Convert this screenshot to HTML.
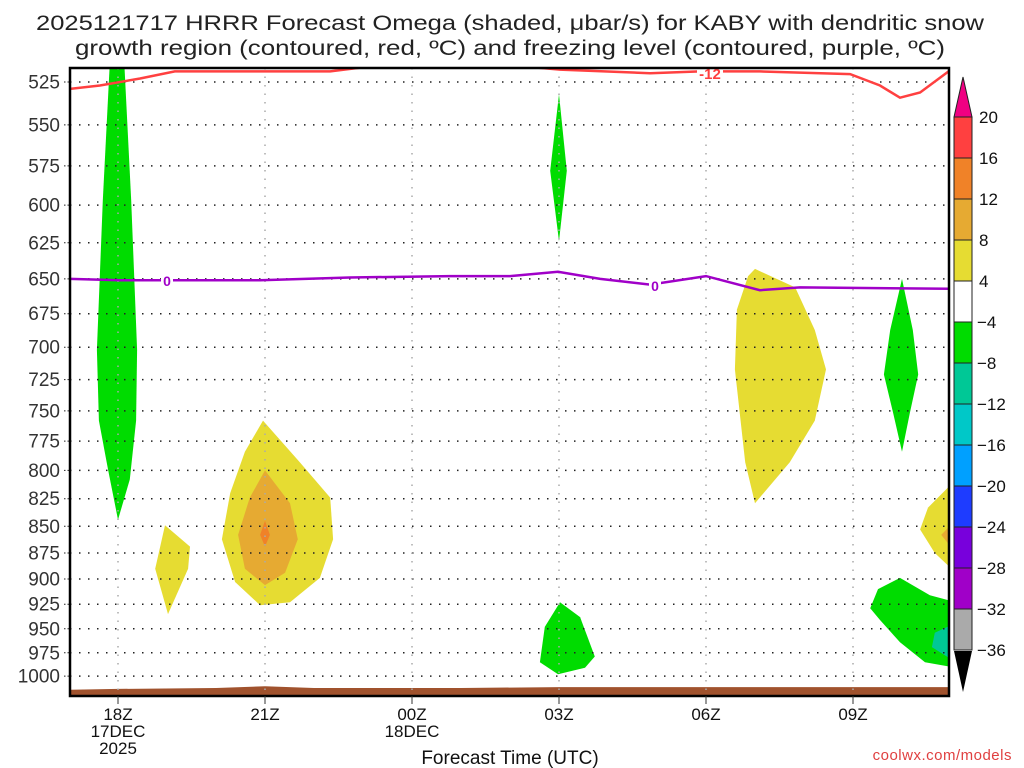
<!DOCTYPE html>
<html><head><meta charset="utf-8"><style>
html,body{margin:0;padding:0;background:#fff;}
svg{display:block;font-family:"Liberation Sans",sans-serif;}
</style></head><body>
<svg id="chart" width="1024" height="768" viewBox="0 0 1024 768" xmlns="http://www.w3.org/2000/svg">
<text x="510" y="30" text-anchor="middle" font-size="21" fill="#222" textLength="948" lengthAdjust="spacingAndGlyphs">2025121717 HRRR Forecast Omega (shaded, μbar/s) for KABY with dendritic snow</text>
<text x="510" y="55" text-anchor="middle" font-size="21" fill="#222" textLength="870" lengthAdjust="spacingAndGlyphs">growth region (contoured, red, ºC) and freezing level (contoured, purple, ºC)</text>
<defs><clipPath id="plotclip"><rect x="70" y="68" width="879" height="628"/></clipPath></defs>
<g id="fills" clip-path="url(#plotclip)"></g>
<g id="grid"></g>
<g id="lines" clip-path="url(#plotclip)"></g>
<rect x="70" y="68" width="879" height="628" fill="none" stroke="#000" stroke-width="2.5"/>
<g id="axes"></g>
<g id="colorbar"></g>
<text x="510" y="764" text-anchor="middle" font-size="19" fill="#111">Forecast Time (UTC)</text>
<text x="1012" y="760" text-anchor="end" font-size="15" fill="#e04040" letter-spacing="0.5">coolwx.com/models</text>
</svg>
<script>
// hours since 17Z 17DEC, pressure in hPa
const pressureTicks=[525,550,575,600,625,650,675,700,725,750,775,800,825,850,875,900,925,950,975,1000];
const timeTickHours=[1,4,7,10,13,16];
const timeTickLabels=[["18Z","17DEC","2025"],["21Z"],["00Z","18DEC"],["03Z"],["06Z"],["09Z"]];
const cbLevels=[20,16,12,8,4,-4,-8,-12,-16,-20,-24,-28,-32,-36];
const cbColors=["#ff4040","#f08228","#e6aa32","#e6dc32","#ffffff","#00dc00","#00c896","#00c8c8","#00a0ff","#1e3cff","#7800dc","#a000c8","#aaaaaa"];
const greenColumnH=[0.84,1.12,1.27,1.39,1.37,1.24,1.0,0.8,0.61,0.57,0.69];
const greenColumnP=[510,510,597,702,758,808,844,800,758,702,597];
const yellowSmallH=[1.96,2.47,2.43,2.02,1.76];
const yellowSmallP=[849,869,890,935,890];
const yellow21H=[3.96,4.71,5.33,5.39,5.12,4.51,3.9,3.39,3.12,3.29,3.59];
const yellow21P=[758,793,824,862,899,923,926,903,862,820,784];
const orange21H=[4.0,4.51,4.67,4.41,4.0,3.59,3.45,3.69];
const orange21P=[800,829,862,894,906,890,858,824];
const dkorange21H=[4.0,4.1,4.0,3.9];
const dkorange21P=[845,858,869,858];
const green03uH=[10.0,10.16,10.0,9.82];
const green03uP=[532,578,624,578];
const green03lH=[10.02,10.43,10.73,10.53,9.98,9.61,9.71];
const green03lP=[923,938,979,991,998,985,948];
const yellow07H=[14.0,14.82,15.22,15.45,15.22,14.71,14.0,13.8,13.59,13.63,13.86];
const yellow07P=[643,656,687,717,758,793,829,793,717,672,648];
const green10uH=[17.0,17.22,17.33,17.16,17.0,16.82,16.63,16.76];
const green10uP=[650,687,721,752,784,752,721,687];
const green10lH=[16.96,17.57,18.1,18.1,17.47,16.96,16.55,16.35,16.51];
const green10lP=[899,916,923,991,985,964,941,929,910];
const teal10H=[18.1,17.67,17.61,18.1];
const teal10P=[944,954,969,985];
const yellowEdgeH=[18.1,18.1,17.67,17.37,17.53];
const yellowEdgeP=[808,894,875,853,833];
const orangeEdgeH=[18.1,17.8,18.1];
const orangeEdgeP=[844,858,875];
const redLineH=[0.0,0.63,1.45,2.16,2.67,3.9,5.33,6.2,6.76,8.39,9.2,10.02,11.86,12.88,14.1,15.94,16.55,16.96,17.37,18.0];
const redLineP=[529,527,523,519,519,519,519,516,512,512,516,518,520,519,519,520.5,527,534,531,518];
const purpleLineH=[0.0,1.04,2.67,3.9,5.73,7.78,9.0,9.98,10.84,11.86,13.0,14.1,14.92,18.0];
const purpleLineP=[650,651,651,651,649,648,648,645,650,654,648,658,656,657];
const surfaceH=[0,1,3,4,5,8,10,18];
const surfaceP=[1015,1014,1013,1011,1013,1013,1012,1012];

const NS="http://www.w3.org/2000/svg";
function X(h){return 69+h*49;}
function Y(p){return 82+Math.log(p/525)*922;}
function mk(tag,attrs,parent){const e=document.createElementNS(NS,tag);for(const k in attrs)e.setAttribute(k,attrs[k]);parent.appendChild(e);return e;}
function pts(H,P){return H.map((h,i)=>X(h).toFixed(1)+","+Y(P[i]).toFixed(1)).join(" ");}
const fills=document.getElementById("fills"),grid=document.getElementById("grid"),lines=document.getElementById("lines"),axes=document.getElementById("axes"),cb=document.getElementById("colorbar");

function region(name,H,P,color){
  const e=mk("polygon",{points:pts(H,P),fill:color},fills);
  
  
}
region("omega-green-18z",greenColumnH,greenColumnP,"#00dc00");
region("omega-yellow-19z",yellowSmallH,yellowSmallP,"#e6dc32");
region("omega-yellow-21z",yellow21H,yellow21P,"#e6dc32");
region("omega-orange-21z",orange21H,orange21P,"#e6aa32");
region("omega-darkorange-21z",dkorange21H,dkorange21P,"#f08228");
region("omega-green-03z-upper",green03uH,green03uP,"#00dc00");
region("omega-green-03z-lower",green03lH,green03lP,"#00dc00");
region("omega-yellow-07z",yellow07H,yellow07P,"#e6dc32");
region("omega-green-10z-upper",green10uH,green10uP,"#00dc00");
region("omega-green-10z-lower",green10lH,green10lP,"#00dc00");
region("omega-teal-10z",teal10H,teal10P,"#00c896");
region("omega-yellow-edge",yellowEdgeH,yellowEdgeP,"#e6dc32");
region("omega-orange-edge",orangeEdgeH,orangeEdgeP,"#e6aa32");

// surface
{
  const top=surfaceH.map((h,i)=>X(h).toFixed(1)+","+Y(surfaceP[i]).toFixed(1));
  const d="M70,700 L"+top.join(" L")+" L"+X(surfaceH[surfaceH.length-1])+",700 Z";
  const e=mk("path",{d:d,fill:"#a0522d"},fills);
  
  
}

// grid
pressureTicks.forEach(p=>{
  const y=Y(p);
  const g=mk("line",{x1:70,x2:949,y1:y,y2:y,stroke:"#222","stroke-width":1.5,"stroke-dasharray":"1.5 7.5"},grid);
  
  
  const t=mk("line",{x1:64,x2:70,y1:y,y2:y,stroke:"#222","stroke-width":1,"stroke-dasharray":"1.5 2"},axes);
  
  
  const l=mk("text",{x:60,y:y+6.5,"text-anchor":"end","font-size":19,fill:"#333"},axes);
  l.textContent=p;
  
  
});
timeTickHours.forEach((h,i)=>{
  const x=X(h);
  const g=mk("line",{x1:x,x2:x,y1:68,y2:696,stroke:"#aaa","stroke-width":1.5,"stroke-dasharray":"1.5 7"},grid);
  
  
  const t=mk("line",{x1:x,x2:x,y1:696,y2:704,stroke:"#333","stroke-width":1},axes);
  
  
  timeTickLabels[i].forEach((s,j)=>{
    const l=mk("text",{x:x,y:720+j*17,"text-anchor":"middle","font-size":17,fill:"#111"},axes);
    l.textContent=s;
    
    
  });
});

// contour lines
{
  const r=mk("polyline",{points:pts(redLineH,redLineP),fill:"none",stroke:"#ff4040","stroke-width":2.5},lines);
  
  
  const rb=mk("rect",{x:697,y:66,width:26,height:14,fill:"#fff"},lines);
  
  
  const rl=mk("text",{x:710,y:79,"text-anchor":"middle","font-size":15,"font-weight":"bold",fill:"#ff4040"},lines);
  rl.textContent="-12";
  
  
  const pl=mk("polyline",{points:pts(purpleLineH,purpleLineP),fill:"none",stroke:"#a000c8","stroke-width":2.5},lines);
  
  
  [[167,281],[655,286]].forEach(([x,y])=>{
    const b=mk("rect",{x:x-6,y:y-8,width:12,height:15,fill:"#fff"},lines);
    
    
    const t=mk("text",{x:x,y:y+5,"text-anchor":"middle","font-size":14,"font-weight":"bold",fill:"#a000c8"},lines);
    t.textContent="0";
    
    
  });
}

// colorbar
function cbY(i){return 117+i*41;}
{
  const tri=mk("polygon",{points:"963,77 954,117 972,117",fill:"#f00082",stroke:"#222","stroke-width":1},cb);
  
  
  cbColors.forEach((c,i)=>{
    const r=mk("rect",{x:954,y:cbY(i),width:18,height:41,fill:c,stroke:"#222","stroke-width":1},cb);
    
    
  });
  const tb=mk("polygon",{points:"954,651 972,651 963,692",fill:"#000"},cb);
  
  
  cbLevels.forEach((v,i)=>{
    const t=mk("text",{x:v<0?977:979,y:cbY(i)+6,"text-anchor":"start","font-size":17,fill:"#111"},cb);
    t.textContent=v<0?"\u2212"+(-v):String(v);
    
    
  });
}
</script>
</body></html>
